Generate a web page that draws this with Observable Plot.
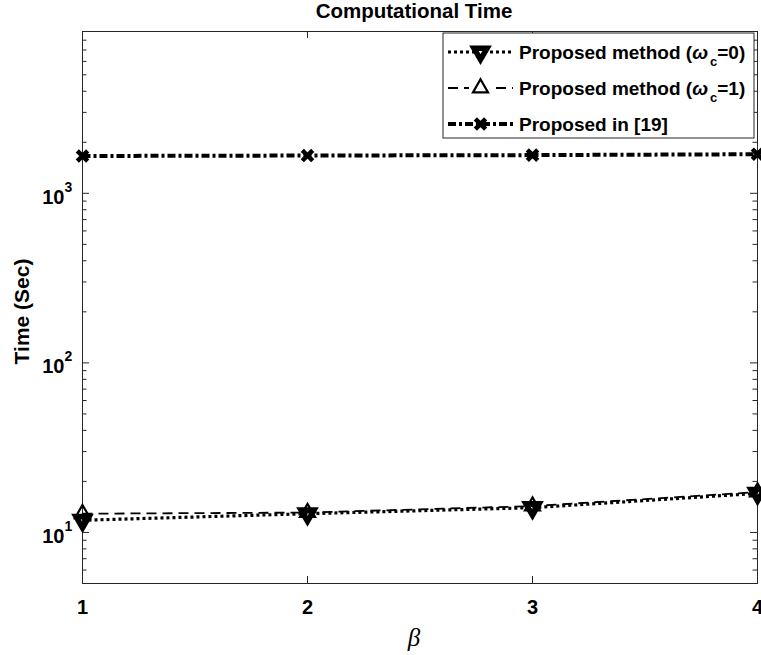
<!DOCTYPE html>
<html><head><meta charset="utf-8">
<script src="https://cdn.jsdelivr.net/npm/d3@7"></script>
<script src="https://cdn.jsdelivr.net/npm/@observablehq/plot@0.6"></script>
<style>body{margin:0;background:#fff} #chart svg{font-family:"Liberation Sans",Arial,sans-serif;}</style>
</head><body><div id="chart"></div>
<script>
// ---- data ----
const betas = [1, 2, 3, 4];
const timeW0 = [11.8, 12.9, 14.0, 17.0];      // Proposed method (ωc=0)
const timeW1 = [12.9, 13.1, 14.3, 17.3];      // Proposed method (ωc=1)
const timeRef19 = [1660, 1670, 1680, 1700];   // Proposed in [19]
const majorTicks = [10, 100, 1000];
const majorExponents = ["1", "2", "3"];
const minorTicks = [6, 7, 8, 9, 20, 30, 40, 50, 60, 70, 80, 90, 200, 300, 400, 500, 600, 700, 800, 900, 2000, 3000, 4000, 5000, 6000, 7000, 8000, 9000];
const xTickLabels = ["1", "2", "3", "4"];

const rows = (ys) => betas.map((b, i) => ({beta: b, time: ys[i]}));
const rW0 = rows(timeW0), rW1 = rows(timeW1), rR = rows(timeRef19);

const W = 761, H = 655, mL = 82, mR = 4, mT = 31, mB = 72;
const fw = W - mL - mR, fh = H - mT - mB;
const axisColor = "#262626";
const major = 7, minor = 4.5;
const plot = Plot.plot({
  width: W, height: H,
  marginLeft: mL, marginRight: mR, marginTop: mT, marginBottom: mB,
  style: {fontFamily: "Liberation Sans, Arial, sans-serif", background: "white", color: axisColor},
  x: {domain: [1, 4], axis: null},
  y: {type: "log", domain: [5, 9000], axis: null},
  marks: [
    Plot.frame({stroke: axisColor, strokeWidth: 1}),
    // inward ticks on all four sides (box on)
    Plot.tickX(betas, {x: d => d, insetTop: fh - major, stroke: axisColor}),
    Plot.tickX(betas, {x: d => d, insetBottom: fh - major, stroke: axisColor}),
    Plot.tickY(majorTicks, {y: d => d, insetRight: fw - major, stroke: axisColor}),
    Plot.tickY(minorTicks, {y: d => d, insetRight: fw - minor, stroke: axisColor}),
    Plot.tickY(majorTicks, {y: d => d, insetLeft: fw - major, stroke: axisColor}),
    Plot.tickY(minorTicks, {y: d => d, insetLeft: fw - minor, stroke: axisColor}),
    // tick labels
    Plot.text(betas, {x: d => d, frameAnchor: "bottom", lineAnchor: "middle", textAnchor: "middle", text: (d, i) => xTickLabels[i], dy: 24, fontSize: 20, fontWeight: "bold", fill: "black"}),
    Plot.text(majorTicks, {y: d => d, frameAnchor: "left", text: () => "10", textAnchor: "end", dx: -18, dy: 4, fontSize: 20, fontWeight: "bold", fill: "black"}),
    Plot.text(majorTicks, {y: d => d, frameAnchor: "left", text: (d, i) => majorExponents[i], textAnchor: "start", dx: -18, dy: -6, fontSize: 14, fontWeight: "bold", fill: "black"}),
    // title and axis labels
    Plot.text(["Computational Time"], {frameAnchor: "top", lineAnchor: "middle", textAnchor: "middle", dy: -20, dx: -6, fontSize: 20.5, fontWeight: "bold", fill: "black"}),
    Plot.text(["Time (Sec)"], {frameAnchor: "left", textAnchor: "middle", lineAnchor: "middle", dx: -60, dy: 4, rotate: -90, fontSize: 21, fontWeight: "bold", fill: "black"}),
    Plot.text(["β"], {frameAnchor: "bottom", lineAnchor: "middle", textAnchor: "middle", dy: 54, dx: -6, fontSize: 25, fontStyle: "italic", fontFamily: "Liberation Serif, serif", fill: "black"}),
    // series
    Plot.line(rW0, {x: "beta", y: "time", stroke: "black", strokeWidth: 3.2, strokeDasharray: "3,3", strokeLinecap: "butt", strokeLinejoin: "miter"}),
    Plot.line(rW1, {x: "beta", y: "time", stroke: "black", strokeWidth: 1.8, strokeDasharray: "10,6", strokeLinecap: "butt", strokeLinejoin: "miter"}),
    Plot.line(rR, {x: "beta", y: "time", stroke: "black", strokeWidth: 4, strokeDasharray: "8,3,3,3", strokeLinecap: "butt", strokeLinejoin: "miter"}),
    Plot.dot(rW0, {x: "beta", y: "time", symbol: "triangle", rotate: 180, r: 4.9, stroke: "black", strokeWidth: 5.5, fill: "none", strokeLinejoin: "miter"}),
    Plot.dot(rW1, {x: "beta", y: "time", symbol: "triangle", r: 5.6, stroke: "black", strokeWidth: 2.2, fill: "none", strokeLinejoin: "miter"}),
    Plot.dot(rR, {x: "beta", y: "time", symbol: "times", r: 4.8, stroke: "black", strokeWidth: 4.5})
  ]
});
document.getElementById("chart").appendChild(plot);

// ---- legend (inside the axes, top-right) ----
const legendItems = [
  {pre: "Proposed method (", w: "ω", sub: "c", post: "=0)", dash: "3,3", sw: 3.2, sym: "down"},
  {pre: "Proposed method (", w: "ω", sub: "c", post: "=1)", dash: "10,6", sw: 1.8, sym: "up"},
  {pre: "Proposed in [19]", w: "", sub: "", post: "", dash: "8,3,3,3", sw: 4, sym: "x"}
];
const svg = d3.select(plot);
const lg = svg.append("g").attr("text-anchor", "start");
lg.append("rect").attr("x", 443).attr("y", 33).attr("width", 311).attr("height", 105)
  .attr("fill", "white").attr("stroke", axisColor).attr("stroke-width", 1);
const rowY = [52, 88, 124];
legendItems.forEach((it, i) => {
  const y = rowY[i];
  lg.append("line").attr("x1", 448).attr("x2", 513).attr("y1", y).attr("y2", y)
    .attr("stroke", "black").attr("stroke-width", it.sw).attr("stroke-dasharray", it.dash);
  if (it.sym === "down") {
    lg.append("path").attr("d", d3.symbol(d3.symbolTriangle, 75)()).attr("transform", `translate(480.5,${y}) rotate(180)`)
      .attr("fill", "white").attr("stroke", "black").attr("stroke-width", 5.5).attr("stroke-linejoin", "miter");
  } else if (it.sym === "up") {
    lg.append("rect").attr("x", 469).attr("y", y - 9).attr("width", 23).attr("height", 18).attr("fill", "white");
    lg.append("path").attr("d", d3.symbol(d3.symbolTriangle, 98)()).attr("transform", `translate(480.5,${y})`)
      .attr("fill", "white").attr("stroke", "black").attr("stroke-width", 2.2).attr("stroke-linejoin", "miter");
  } else {
    lg.append("path").attr("d", d3.symbol(d3.symbolTimes, 72)()).attr("transform", `translate(480.5,${y})`)
      .attr("fill", "none").attr("stroke", "black").attr("stroke-width", 4.5);
  }
  const t = lg.append("text").attr("x", 519).attr("y", y + 7).attr("font-size", 19).attr("font-weight", "bold").attr("fill", "black").attr("text-anchor", "start");
  t.append("tspan").text(it.pre);
  if (it.w) {
    t.append("tspan").attr("font-style", "italic").text(it.w);
    t.append("tspan").attr("font-size", 13).attr("dy", 7).attr("dx", 2).text(it.sub);
    t.append("tspan").attr("dy", -7).text(it.post);
  }
});
</script></body></html>
